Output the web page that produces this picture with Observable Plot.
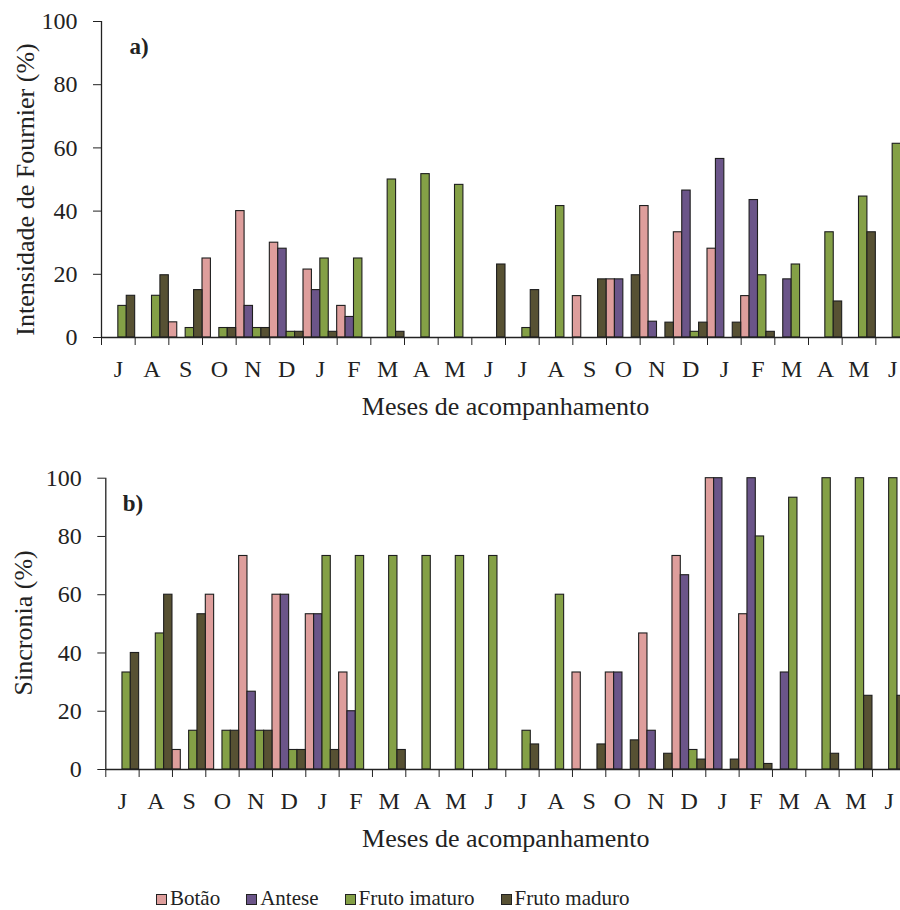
<!DOCTYPE html>
<html>
<head>
<meta charset="utf-8">
<script src="https://cdn.jsdelivr.net/npm/d3@7"></script>
<script src="https://cdn.jsdelivr.net/npm/@observablehq/plot@0.6"></script>
<style>
  html, body { margin: 0; padding: 0; background: #fff; overflow: hidden; width: 900px; height: 910px; }
  #wrap { position: relative; width: 900px; height: 910px; font-family: "Liberation Serif", "Times New Roman", serif; color: #222; }
  .panel { position: absolute; left: 0; }
  #legend { position: absolute; top: 888px; left: 156px; font-family: "Liberation Serif", "Times New Roman", serif; font-size: 21px; line-height: 21px; white-space: nowrap; display: flex; }
  #legend .item { display: inline-block; margin-right: 26px; }
  #legend .sw { display: inline-block; width: 9px; height: 9px; border: 1px solid #222; margin-right: 3px; }
</style>
</head>
<body>
<div id="wrap">
  <div id="pa" class="panel" style="top:0px"></div>
  <div id="pb" class="panel" style="top:440px"></div>
  <div id="legend"></div>
</div>
<script>
// Month labels (Jul → Jun, two years)
const months = ["J","A","S","O","N","D","J","F","M","A","M","J","J","A","S","O","N","D","J","F","M","A","M","J"];
const seriesNames = ["Botão", "Antese", "Fruto imaturo", "Fruto maduro"];
const seriesColors = ["#DE9E9C", "#6B5589", "#84A046", "#575133"];
const yTicks = [0, 20, 40, 60, 80, 100];

// a) Intensidade de Fournier (%)
const fournierBotao   = [0, 0, 4.8, 25, 40, 30, 21.5, 10, 0, 0, 0, 0, 0, 0, 13.1, 18.4, 41.6, 33.3, 28.1, 13.1, 0, 0, 0, 0];
const fournierAntese  = [0, 0, 0, 0, 10, 28.1, 15, 6.5, 0, 0, 0, 0, 0, 0, 0, 18.4, 5, 46.5, 56.5, 43.5, 18.4, 0, 0, 0];
const fournierImaturo = [10, 13.2, 3, 3, 3, 1.8, 25, 25, 50, 51.7, 48.3, 0, 3, 41.6, 0, 0, 0, 1.8, 0, 19.7, 23.1, 33.3, 44.6, 61.3];
const fournierMaduro  = [13.2, 19.7, 15, 3, 3, 1.8, 1.8, 0, 1.8, 0, 0, 23.1, 15, 0, 18.4, 19.7, 4.7, 4.7, 4.7, 1.8, 0, 11.4, 33.3, null];

// b) Sincronia (%)
const sincBotao   = [0, 0, 6.7, 60, 73.3, 60, 53.3, 33.3, 0, 0, 0, 0, 0, 0, 33.3, 33.3, 46.7, 73.3, 100, 53.3, 0, 0, 0, 0];
const sincAntese  = [0, 0, 0, 0, 26.7, 60, 53.3, 20, 0, 0, 0, 0, 0, 0, 0, 33.3, 13.3, 66.7, 100, 100, 33.3, 0, 0, 0];
const sincImaturo = [33.3, 46.7, 13.3, 13.3, 13.3, 6.7, 73.3, 73.3, 73.3, 73.3, 73.3, 73.3, 13.3, 60, 0, 0, 0, 6.7, 0, 80, 93.3, 100, 100, 100];
const sincMaduro  = [40, 60, 53.3, 13.3, 13.3, 6.7, 6.7, 0, 6.7, 0, 0, 0, 8.6, 0, 8.6, 10, 5.4, 3.4, 3.4, 1.9, 0, 5.4, 25.3, 25.3];

function toRows(lists) {
  const rows = [];
  lists.forEach((vals, s) => vals.forEach((v, i) => {
    if (v) rows.push({month: i, series: seriesNames[s], s, value: v});
  }));
  return rows;
}

const nS = seriesNames.length;

function panel(rows, cfg) {
  return Plot.plot({
    width: 900,
    height: cfg.height,
    marginTop: cfg.top,
    marginBottom: cfg.height - cfg.zero,
    marginLeft: cfg.left,
    marginRight: 0,
    style: {fontFamily: "'Liberation Serif', 'Times New Roman', serif", fontSize: "24px", color: "#222", background: "transparent"},
    x: {domain: [0, months.length], range: [cfg.left, cfg.right]},
    y: {domain: [0, 100], range: [cfg.zero, cfg.top]},
    color: {domain: seriesNames, range: seriesColors},
    marks: [
      Plot.rectY(rows, {
        x1: d => d.month + d.s / nS,
        x2: d => d.month + (d.s + 1) / nS,
        y: "value",
        fill: "series",
        stroke: "#1e1e1e",
        strokeWidth: 1.1
      }),
      Plot.ruleX([0], {y1: 0, y2: 100, stroke: "#222", strokeWidth: 1.3}),
      Plot.ruleY([0], {x1: 0, x2: months.length, stroke: "#222", strokeWidth: 1.3}),
      Plot.axisY({ticks: yTicks, tickSize: 8, tickPadding: 16, label: null, tickFormat: d => String(d)}),
      Plot.axisX({ticks: d3.range(months.length + 1), tickSize: 8, tickFormat: () => "", label: null}),
      Plot.axisX({ticks: months.map((m, i) => i + 0.5), tickSize: 0, tickPadding: 22.5, tickFormat: d => months[Math.floor(d)], label: null}),
      Plot.text(["Meses de acompanhamento"], {text: d => d, frameAnchor: "bottom", textAnchor: "middle", dx: cfg.titleDx, dy: 77, lineAnchor: "bottom", fontSize: 26}),
      Plot.text([cfg.ylabel], {text: d => d, frameAnchor: "left", textAnchor: "middle", rotate: -90, dx: cfg.ylabelDx, dy: cfg.ylabelDy, lineAnchor: "middle", fontSize: 26}),
      Plot.text([cfg.tag], {text: d => d, frameAnchor: "top-left", textAnchor: "start", lineAnchor: "bottom", dx: cfg.tagDx, dy: cfg.tagDy, fontWeight: "bold", fontSize: 23})
    ]
  });
}

const plotA = panel(toRows([fournierBotao, fournierAntese, fournierImaturo, fournierMaduro]), {
  height: 425, top: 21, zero: 337, left: 101, right: 909,
  ylabel: "Intensidade de Fournier (%)", ylabelDx: -76, ylabelDy: 10,
  tag: "a)", tagDx: 28, tagDy: 32, titleDx: 4.5
});
document.getElementById("pa").appendChild(plotA);

const plotB = panel(toRows([sincBotao, sincAntese, sincImaturo, sincMaduro]), {
  height: 420, top: 37.7, zero: 329, left: 105.3, right: 905.3,
  ylabel: "Sincronia (%)", ylabelDx: -82, ylabelDy: -1,
  tag: "b)", tagDx: 17, tagDy: 33, titleDx: 2.6
});
document.getElementById("pb").appendChild(plotB);

// Legend
const legend = document.getElementById("legend");
seriesNames.forEach((name, i) => {
  const item = document.createElement("span");
  item.className = "item";
  const sw = document.createElement("span");
  sw.className = "sw";
  sw.style.background = seriesColors[i];
  item.appendChild(sw);
  item.appendChild(document.createTextNode(name));
  legend.appendChild(item);
});
</script>
</body>
</html>
